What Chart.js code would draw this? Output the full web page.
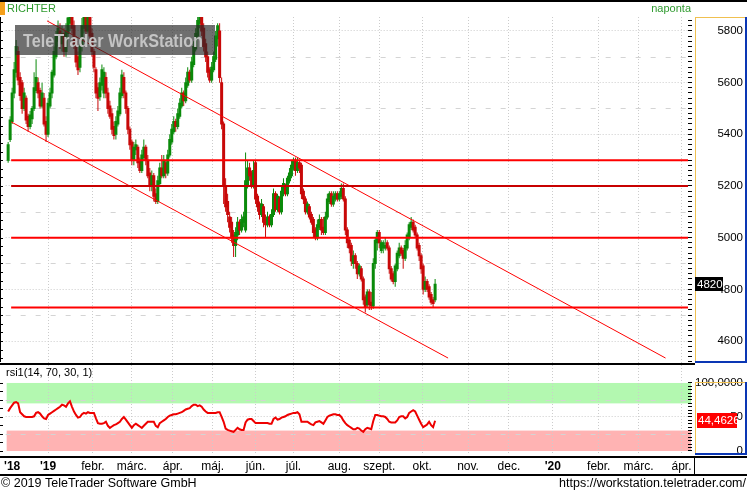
<!DOCTYPE html>
<html>
<head>
<meta charset="utf-8">
<script src="https://cdn.jsdelivr.net/npm/chart.js@4.4.1/dist/chart.umd.min.js"></script>
<style>
  html, body { margin: 0; padding: 0; background: #fff; }
  canvas { display: block; }
</style>
</head>
<body>
<canvas id="riskChart" width="747" height="493"></canvas>
<script>
// napi gyertyak, dec. 2018 - okt. 2019 (egy elem = egy kereskedesi nap)
const candleOpen = [
  5300,5380,5450,5560,5640,5720,5620,5600,5500,5540,5470,5430,5460,5500,5570,5600,5570,5510,5540,5450,5400,
  5510,5560,5630,5700,5760,5800,5750,5790,5720,5790,5830,5870,5820,5760,5700,5660,5740,5810,5860,5800,5860,5790,
  5720,5650,5580,5545,5590,5560,5620,5560,5510,5480,5430,5400,5440,5480,5550,5620,5560,5500,5420,5370,
  5300,5340,5350,5300,5260,5310,5350,5300,5250,5200,5240,5170,5140,5210,5270,5240,5290,5250,5320,5370,
  5410,5450,5430,5470,5510,5560,5530,5590,5640,5610,5670,5730,5780,5830,5860,5810,5750,5700,5650,5610,
  5650,5690,5770,5800,5600,5440,5200,5140,5080,5060,5010,4970,5010,5060,5030,5060,5030,5200,5270,5250,5200,
  5290,5160,5130,5090,5120,5070,5050,5080,5050,5090,5170,5110,5150,5100,5170,5200,5170,5220,5240,
  5270,5300,5260,5290,5280,5180,5150,5100,5120,5090,5070,5030,5000,5040,5070,5040,5020,5080,5140,5170,5130,5150,5170,
  5150,5160,5190,5150,5030,4990,4970,4900,4930,4900,4860,4880,4840,4770,4740,4790,4750,4735,4900,4980,
  5020,4950,4960,4960,4980,4960,4880,4860,4830,4880,4930,4960,4950,4920,4960,5000,5040,5060,5040,5010,4970,
  4930,4890,4800,4830,4810,4780,4760,4760
];
const candleHigh = [
  5370,5470,5580,5680,5765,5740,5640,5610,5580,5550,5480,5490,5510,5640,5690,5620,5580,5600,5560,5470,5540,
  5580,5650,5740,5800,5840,5830,5820,5810,5830,5880,5900,5890,5840,5780,5720,5760,5850,5890,5890,5900,5880,5810,
  5730,5660,5600,5620,5670,5660,5640,5580,5530,5500,5450,5470,5510,5580,5650,5640,5570,5510,5430,5380,
  5370,5380,5360,5310,5340,5380,5360,5320,5270,5260,5250,5190,5240,5290,5320,5320,5300,5340,5400,5440,
  5470,5460,5500,5540,5580,5570,5620,5660,5650,5700,5760,5810,5870,5890,5880,5830,5770,5720,5660,5680,
  5720,5800,5830,5830,5620,5450,5230,5170,5100,5080,5030,5040,5080,5070,5090,5100,5330,5300,5290,5260,5300,
  5300,5170,5140,5150,5130,5090,5100,5090,5110,5190,5180,5170,5160,5200,5230,5210,5240,5270,5300,
  5310,5310,5310,5300,5290,5190,5160,5140,5130,5100,5080,5040,5070,5090,5080,5080,5100,5170,5180,5180,5180,5180,5180,
  5180,5210,5210,5160,5040,5000,4980,4950,4940,4910,4900,4890,4850,4780,4800,4800,4790,4920,5000,5030,
  5030,4990,4990,5000,4990,4970,4890,4870,4900,4950,4980,4970,4960,4990,5020,5060,5080,5070,5050,5020,4980,
  4940,4900,4850,4840,4820,4790,4770,4840
];
const candleLow = [
  5290,5370,5440,5540,5620,5590,5530,5480,5490,5440,5410,5420,5440,5490,5560,5540,5500,5500,5430,5370,5390,
  5500,5540,5620,5690,5740,5730,5720,5700,5700,5770,5800,5790,5730,5660,5630,5640,5720,5790,5780,5790,5760,5700,
  5640,5540,5490,5530,5570,5540,5540,5480,5460,5400,5380,5380,5430,5470,5540,5540,5480,5400,5340,5280,
  5280,5320,5270,5250,5250,5300,5280,5230,5180,5180,5140,5130,5130,5200,5230,5230,5230,5240,5310,5360,
  5400,5410,5420,5460,5500,5510,5520,5580,5600,5600,5660,5720,5770,5810,5780,5720,5680,5620,5600,5600,
  5640,5680,5740,5600,5420,5130,5100,5060,5020,4980,4925,4925,4990,5010,5020,5040,5020,5190,5220,5190,5190,
  5130,5100,5070,5080,5040,5000,5040,5040,5040,5080,5100,5100,5090,5090,5160,5160,5160,5210,5230,
  5260,5240,5250,5250,5150,5130,5090,5090,5070,5050,5000,4990,4990,5030,5010,5010,5010,5070,5130,5120,5120,5140,5140,
  5140,5150,5140,5010,4960,4940,4890,4880,4880,4840,4850,4830,4740,4710,4730,4720,4720,4725,4880,4950,
  4960,4940,4940,4950,4950,4860,4830,4820,4810,4870,4920,4930,4880,4910,4950,4990,5030,5020,5000,4950,4910,
  4860,4780,4790,4790,4760,4740,4730,4750
];
const candleClose = [
  5360,5455,5560,5650,5740,5610,5550,5500,5560,5455,5430,5475,5500,5580,5620,5560,5510,5560,5440,5400,5520,
  5560,5640,5720,5780,5810,5750,5790,5720,5800,5850,5880,5810,5750,5680,5650,5740,5820,5860,5800,5870,5780,5720,
  5660,5560,5540,5600,5650,5640,5560,5500,5470,5420,5395,5450,5490,5560,5630,5560,5500,5420,5360,5300,
  5350,5360,5290,5260,5320,5350,5300,5240,5200,5240,5160,5140,5220,5270,5240,5300,5250,5320,5380,5420,
  5450,5430,5480,5520,5560,5530,5600,5640,5610,5680,5740,5790,5840,5870,5800,5740,5700,5640,5610,5660,
  5700,5780,5820,5620,5440,5200,5120,5090,5040,5000,4970,5020,5060,5030,5070,5080,5220,5270,5240,5200,5260,
  5150,5120,5090,5130,5060,5050,5080,5050,5090,5170,5110,5160,5100,5180,5210,5170,5230,5250,5280,
  5300,5260,5290,5270,5170,5150,5100,5130,5080,5060,5020,5000,5050,5070,5030,5020,5080,5150,5170,5130,5160,5170,5150,
  5170,5190,5150,5030,4980,4960,4910,4930,4900,4860,4890,4840,4760,4730,4790,4740,4735,4900,4990,5020,
  4980,4980,4980,4970,4960,4880,4840,4830,4890,4940,4960,4940,4920,4970,5010,5050,5060,5030,5010,4960,4930,
  4880,4800,4830,4800,4770,4750,4745,4820
];
// RSI(14) ertekek ugyanazokra a napokra
const rsiValues = [
  58,63,67,71,72,70,57,54,51,50,50,50,50,51,56,57,55,51,48,47,53,
  55,57,59,61,63,65,68,67,65,70,73,65,58,53,49,50,54,56,55,57,56,56,
  56,48,41,40,40,41,43,37,34,36,38,39,41,43,47,50,46,42,38,34,
  38,40,38,36,34,37,40,43,43,43,43,37,35,41,43,45,47,50,52,53,
  54,54,55,56,57,59,61,62,63,66,68,68,66,67,65,61,58,56,56,56,
  56,56,57,57,50,43,33,31,30,29,28,31,34,32,31,31,42,46,47,47,44,
  41,41,41,41,41,41,41,40,40,47,49,46,47,49,50,51,53,54,55,
  56,56,57,54,43,43,43,43,41,39,38,42,43,44,42,40,45,50,52,53,54,54,53,
  53,50,45,41,38,36,34,32,32,34,33,30,28,32,34,33,32,44,53,53,
  52,51,51,50,47,43,42,42,42,45,50,51,51,48,50,56,58,60,58,52,46,
  40,35,37,39,43,38,35,44.4626
];
// honapok (gyertya-index) es feliratok
const monthTickPos = [2, 20, 42.5, 62, 82.5, 102.5, 124, 143, 166, 186, 207.5, 230.5, 251, 273, 296, 316, 337.5];
const monthTickLabels = ["'18", "'19", "febr.", "márc.", "ápr.", "máj.", "jún.", "júl.", "aug.", "szept.", "okt.", "nov.", "dec.", "'20", "febr.", "márc.", "ápr."];
const yearTickIdx = [0, 1, 13];
// vizszintes szintek es trendcsatorna [index, ar]
const levelLines = [5300, 5200, 5000, 4730];
const levelColors = ["#ff0000", "#c80000", "#ff0000", "#ff0000"];
const levelFrom = 1.5, levelTo = 341;
const upperTrend = [[19.5, 5839], [329.5, 4534]];
const lowerTrend = [[1.5, 5448], [220.5, 4534]];
const rsiUpper = [70, 100];
const rsiLower = [0, 30];

const FONT = '"Liberation Sans", Arial, sans-serif';
const UP = '#0a8a0a', DOWN = '#c80808', FLAT = '#8a8a8a';

const candleColors = candleClose.map((c, i) => c > candleOpen[i] ? UP : (c < candleOpen[i] ? DOWN : FLAT));
const bodies = candleClose.map((c, i) => ({ x: i, y: [candleOpen[i], c] }));
const wicks = candleClose.map((c, i) => ({ x: i, y: [candleLow[i], candleHigh[i]] }));
const rsiPoints = rsiValues.map((v, i) => ({ x: i, y: v }));

function lineDs(points, width, color) {
    return {
        type: "line",
        yAxisID: "y",
        data: points.map(p => ({ x: p[0], y: p[1] })),
        borderColor: color,
        borderWidth: width,
        pointRadius: 0,
        order: 1
    };
}

const datasets = [
    {
        type: "bar", yAxisID: "y", data: wicks, backgroundColor: candleColors,
        grouped: false, barThickness: 1, maxBarThickness: 1, inflateAmount: 0, order: 6
    },
    {
        // 2px sav + 0.5px felfujas mindket oldalon = 3px test
        type: "bar", yAxisID: "y", data: bodies, backgroundColor: candleColors,
        grouped: false, barThickness: 2, maxBarThickness: 2, minBarLength: 1, inflateAmount: 0.5, order: 5
    }
];
levelLines.forEach((v, i) => datasets.push(lineDs([[levelFrom, v], [levelTo, v]], 2, levelColors[i])));
datasets.push(lineDs(upperTrend, 1, "#ff0000"));
datasets.push(lineDs(lowerTrend, 1, "#ff0000"));
datasets.push({
    type: "line", yAxisID: "yr", data: rsiPoints, borderColor: "#ee0000",
    borderWidth: 2, pointRadius: 0, order: 1
});

function hline(ctx, x1, x2, y) {
    ctx.beginPath();
    ctx.moveTo(x1, y);
    ctx.lineTo(x2, y);
    ctx.stroke();
}

const frame = {
    id: "frame",
    beforeDraw(chart) {
        const { ctx, chartArea: a, scales } = chart;
        const y = scales.y, yr = scales.yr;
        ctx.save();
        // RSI savok
        let t = yr.getPixelForValue(rsiUpper[1]), b = yr.getPixelForValue(rsiUpper[0]);
        ctx.fillStyle = "#b3f8b0";
        ctx.fillRect(a.left + 1, t, a.right + 2 - a.left, b - t);
        t = yr.getPixelForValue(rsiLower[1]); b = yr.getPixelForValue(rsiLower[0]);
        ctx.fillStyle = "#ffb3b3";
        ctx.fillRect(a.left + 1, t, a.right + 2 - a.left, b - t);
        // szaggatott koztes racsvonalak
        ctx.strokeStyle = "#d4d4d4";
        ctx.lineWidth = 1;
        ctx.setLineDash([5, 10]);
        for (let v = 4700; v <= 5800; v += 200) {
            hline(ctx, a.left, a.right, Math.round(y.getPixelForValue(v)) + 0.5);
        }
        [25, 75].forEach(v => hline(ctx, a.left, a.right, Math.round(yr.getPixelForValue(v)) + 0.5));
        ctx.restore();
    },
    afterDraw(chart) {
        const { ctx, scales } = chart;
        const y = scales.y, yr = scales.yr;
        ctx.save();

        // vizjel
        ctx.fillStyle = "rgba(40,40,40,0.67)";
        ctx.fillRect(15, 25, 200, 30);
        const wm = "TeleTrader WorkStation";
        ctx.font = "bold 19px " + FONT;
        const ww = ctx.measureText(wm).width;
        ctx.fillStyle = "#c4c4c4";
        ctx.textBaseline = "alphabetic";
        ctx.textAlign = "left";
        ctx.save();
        ctx.translate(23, 47);
        ctx.scale(180 / ww, 1);
        ctx.fillText(wm, 0, 0);
        ctx.restore();

        // fekete elvalasztok
        ctx.fillStyle = "#000";
        ctx.fillRect(0, 0, 747, 2);
        ctx.fillRect(0, 363, 695, 2);
        ctx.fillRect(0, 456, 747, 2);
        ctx.fillRect(0, 474, 747, 2);
        ctx.fillRect(694, 457, 1, 18);

        // bal oldali kis osztasok
        ctx.fillRect(0, 17, 1, 345);
        for (let v = 4533.33; v < 5854; v += 100 / 3) {
            ctx.fillRect(0, Math.round(y.getPixelForValue(v)), 3, 1);
        }
        for (let v = 0; v <= 100; v += 12.5) {
            ctx.fillRect(0, Math.round(yr.getPixelForValue(v)), 3, 1);
        }

        // fejlec
        ctx.fillStyle = "#f5a01a";
        ctx.fillRect(0, 2, 5, 13);
        ctx.font = "11px " + FONT;
        ctx.textBaseline = "middle";
        ctx.fillStyle = "#2f9a2f";
        ctx.fillText("RICHTER", 7, 9);
        ctx.textAlign = "right";
        ctx.fillText("naponta", 691, 9);
        ctx.textAlign = "left";
        ctx.fillStyle = "#000";
        ctx.fillText("rsi1(14, 70, 30, 1)", 6, 373);

        // tengely keretek
        const yel = "#f0c050", blu = "#0a36b4";
        ctx.fillStyle = yel;
        ctx.fillRect(695, 17, 1, 345);
        ctx.fillRect(695, 17, 50, 1);
        ctx.fillRect(695, 382, 1, 72);
        ctx.fillRect(695, 382, 50, 1);
        ctx.fillStyle = blu;
        ctx.fillRect(745, 17, 2, 346);
        ctx.fillRect(695, 361, 52, 2);
        ctx.fillRect(745, 382, 2, 73);
        ctx.fillRect(695, 453, 52, 2);

        // utolso ertek cimkek
        const lastClose = candleClose[candleClose.length - 1];
        const lastRsi = rsiValues[rsiValues.length - 1];
        ctx.font = "11.5px " + FONT;
        const py = Math.round(y.getPixelForValue(lastClose));
        ctx.fillStyle = "#000";
        ctx.fillRect(695, py - 7, 28, 14);
        ctx.fillStyle = "#fff";
        ctx.fillText(String(lastClose), 697, py + 0.5);
        const ry = Math.round(yr.getPixelForValue(lastRsi));
        ctx.fillStyle = "#ff0000";
        ctx.fillRect(697, ry - 8, 40, 15);
        ctx.fillStyle = "#fff";
        ctx.fillText(lastRsi.toFixed(4).replace(".", ","), 698, ry);

        // lablec
        ctx.font = "12.5px " + FONT;
        ctx.fillStyle = "#000";
        ctx.textAlign = "left";
        ctx.fillText("\u00a9 2019 TeleTrader Software GmbH", 1, 484);
        ctx.textAlign = "right";
        ctx.fillText("https://workstation.teletrader.com/", 746, 484);
        ctx.restore();
    }
};

const canvas = document.getElementById("riskChart");
new Chart(canvas.getContext("2d"), {
    type: "bar",
    data: { datasets: datasets },
    plugins: [frame],
    options: {
        responsive: false,
        animation: false,
        events: [],
        layout: { padding: { left: 4, right: 4, top: 17, bottom: 16 } },
        plugins: { legend: { display: false }, tooltip: { enabled: false } },
        scales: {
            x: {
                // -1.25: a gyertyak kozepe felpixelre esik, igy a kanoc eles
                type: "linear", min: -1.25, max: 340.75, offset: false,
                grid: {
                    offset: false, drawTicks: false,
                    color: c => c.index === 0 ? "rgba(0,0,0,0)" : "#cccccc"
                },
                border: { display: false, dash: [1, 2] },
                afterBuildTicks: s => { s.ticks = monthTickPos.map(v => ({ value: v })); },
                afterFit: s => { s.height = 22; },
                ticks: {
                    autoSkip: false, maxRotation: 0, minRotation: 0, padding: 4, color: "#000",
                    callback: (v, i) => monthTickLabels[i],
                    font: c => ({ family: FONT, size: 12, weight: yearTickIdx.includes(c.index) ? "bold" : "normal" })
                }
            },
            y: {
                type: "linear", position: "right", stack: "right", stackWeight: 347,
                min: 4511, max: 5854, beginAtZero: false,
                grid: {
                    tickLength: 4, tickColor: "#000",
                    color: c => (c.tick && c.tick.value % 200 === 0) ? "#cccccc" : "rgba(0,0,0,0)"
                },
                border: { display: false, dash: [1, 2] },
                afterBuildTicks: s => {
                    const t = [];
                    for (let v = 4520; v <= 5840; v += 20) t.push({ value: v });
                    s.ticks = t;
                },
                afterFit: s => { s.width = 55; },
                ticks: {
                    autoSkip: false, crossAlign: "far", padding: 0, color: "#000",
                    font: { family: FONT, size: 11.5 },
                    callback: v => v % 200 === 0 ? String(v) : ""
                }
            },
            yr: {
                type: "linear", position: "right", stack: "right", stackWeight: 91,
                min: -5.9, max: 127.9, beginAtZero: false,
                grid: {
                    tickLength: 4, tickColor: "#000",
                    color: c => (c.tick && c.tick.value === 50) ? "#cccccc" : "rgba(0,0,0,0)"
                },
                border: { display: false, dash: [1, 2] },
                afterBuildTicks: s => {
                    const t = [];
                    for (let v = 0; v <= 100; v += 5) t.push({ value: v });
                    s.ticks = t;
                },
                afterFit: s => { s.width = 55; },
                ticks: {
                    autoSkip: false, crossAlign: "far", padding: 0, color: "#000",
                    font: { family: FONT, size: 11.5 },
                    callback: v => v === 100 ? "100,0000" : (v === 50 ? "50" : (v === 0 ? "0" : ""))
                }
            }
        }
    }
});
</script>
</body>
</html>
